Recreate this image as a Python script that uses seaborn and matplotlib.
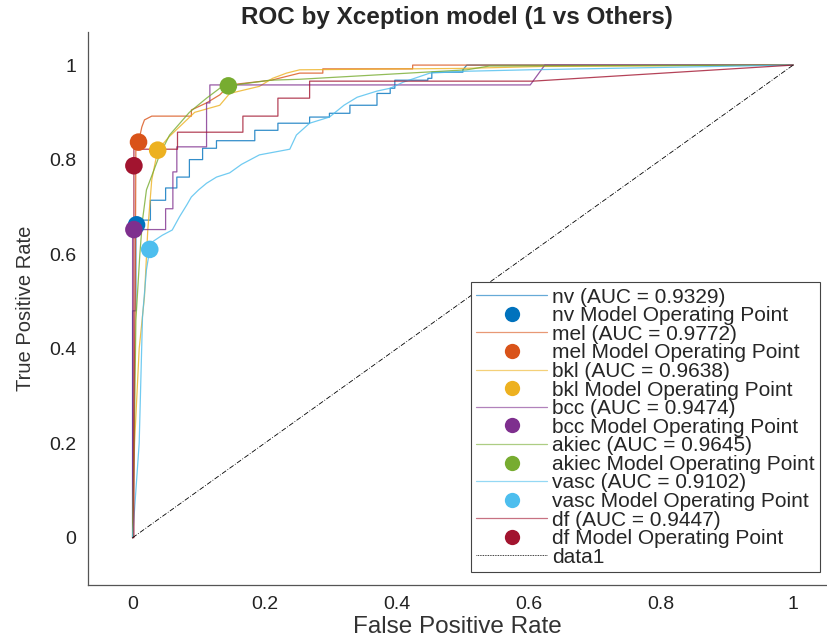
import numpy as np
import pandas as pd
import matplotlib
matplotlib.use("Agg")
import matplotlib.pyplot as plt
from matplotlib.lines import Line2D
import seaborn as sns

classes = ["nv", "mel", "bkl", "bcc", "akiec", "vasc", "df"]
auc = [0.9329, 0.9772, 0.9638, 0.9474, 0.9645, 0.9102, 0.9447]
colors = ["#0072BD", "#D95319", "#EDB120", "#7E2F8E", "#77AC30", "#4DBEEE", "#A2142F"]

nv_pts = [(0, 0), (0, 0.48), (0.005, 0.48), (0.005, 0.672), (0.027, 0.672), (0.027, 0.714),
          (0.05, 0.714), (0.05, 0.74), (0.067, 0.74), (0.067, 0.763), (0.086, 0.763), (0.086, 0.80),
          (0.106, 0.80), (0.106, 0.824), (0.127, 0.824), (0.127, 0.84), (0.185, 0.84), (0.185, 0.862),
          (0.22, 0.862), (0.22, 0.877), (0.268, 0.877), (0.268, 0.89), (0.298, 0.89), (0.298, 0.898),
          (0.329, 0.898), (0.329, 0.915), (0.37, 0.915), (0.37, 0.94), (0.39, 0.94), (0.39, 0.951),
          (0.397, 0.951), (0.397, 0.968), (0.447, 0.968), (0.447, 0.972), (0.453, 0.972), (0.453, 0.985),
          (0.50, 0.985), (0.50, 0.99), (0.506, 1.0), (1.0, 1.0)]
mel_pts = [(0, 0), (0.004, 0.5), (0.005, 0.837), (0.009, 0.837), (0.014, 0.869), (0.018, 0.884),
           (0.029, 0.892), (0.089, 0.892), (0.089, 0.905), (0.112, 0.92), (0.132, 0.937), (0.142, 0.951),
           (0.159, 0.96), (0.21, 0.968), (0.253, 0.983), (0.288, 0.983), (0.288, 0.992), (0.424, 0.992),
           (0.424, 1.0), (1.0, 1.0)]
bkl_pts = [(0, 0), (0.003, 0.2), (0.01, 0.4), (0.018, 0.51), (0.023, 0.651), (0.029, 0.757),
           (0.038, 0.82), (0.055, 0.848), (0.094, 0.90), (0.132, 0.915), (0.147, 0.94), (0.192, 0.955),
           (0.212, 0.972), (0.233, 0.983), (0.253, 0.99), (0.5, 0.993), (0.62, 0.997), (1.0, 1.0)]
bcc_pts = [(0, 0), (0, 0.652), (0.05, 0.652), (0.05, 0.696), (0.061, 0.696), (0.061, 0.774),
           (0.067, 0.774), (0.067, 0.827), (0.112, 0.827), (0.112, 0.92), (0.117, 0.92), (0.117, 0.958),
           (0.602, 0.958), (0.624, 1.0), (1.0, 1.0)]
akiec_pts = [(0, 0), (0.003, 0.25), (0.005, 0.46), (0.011, 0.60), (0.015, 0.672), (0.021, 0.736),
             (0.041, 0.81), (0.056, 0.852), (0.086, 0.90), (0.112, 0.93), (0.132, 0.951), (0.145, 0.956),
             (0.208, 0.968), (0.253, 0.97), (0.506, 0.99), (0.54, 0.998), (1.0, 1.0)]
vasc_pts = [(0, 0), (0.01, 0.2), (0.015, 0.467), (0.021, 0.567), (0.026, 0.61), (0.03, 0.626),
            (0.045, 0.64), (0.06, 0.651), (0.071, 0.679), (0.082, 0.704), (0.089, 0.721), (0.10, 0.736),
            (0.112, 0.75), (0.127, 0.763), (0.147, 0.772), (0.165, 0.79), (0.192, 0.81), (0.238, 0.822),
            (0.248, 0.852), (0.268, 0.877), (0.298, 0.89), (0.32, 0.915), (0.34, 0.932), (0.37, 0.945),
            (0.39, 0.951), (0.41, 0.964), (0.45, 0.983), (0.506, 0.987), (0.6, 0.99), (1.0, 1.0)]
df_pts = [(0, 0), (0.002, 0.0), (0.002, 0.822), (0.068, 0.822), (0.068, 0.858), (0.167, 0.858),
          (0.167, 0.892), (0.22, 0.892), (0.22, 0.93), (0.268, 0.93), (0.268, 0.966), (0.606, 0.966),
          (1.0, 1.0)]

op_fpr = [0.006, 0.009, 0.038, 0.002, 0.145, 0.026, 0.002]
op_tpr = [0.662, 0.837, 0.82, 0.652, 0.956, 0.61, 0.787]

diag_x = [0, 1]
diag_y = [0, 1]

curves = [nv_pts, mel_pts, bkl_pts, bcc_pts, akiec_pts, vasc_pts, df_pts]

sns.set_style("white")
plt.rcParams["font.family"] = ["Liberation Sans", "DejaVu Sans"]

fig = plt.figure(figsize=(8.27, 6.4), dpi=100)
ax = fig.add_axes([0.106, 0.086, 0.893, 0.864])

handles = []
labels = []
for name, a, col, pts in zip(classes, auc, colors, curves):
    d = pd.DataFrame(pts, columns=["fpr", "tpr"])
    sns.lineplot(data=d, x="fpr", y="tpr", sort=False, estimator=None, ax=ax,
                 color=col, linewidth=0.9, alpha=0.8)
    handles.append(Line2D([], [], color=col, linewidth=0.9, alpha=0.6))
    labels.append(f"{name} (AUC = {a:.4f})")
for col, ox, oy in zip(colors, op_fpr, op_tpr):
    sns.scatterplot(x=[ox], y=[oy], ax=ax, color=col, s=160, edgecolor="none", zorder=5)

sns.lineplot(x=diag_x, y=diag_y, ax=ax, color="black", linewidth=0.6, linestyle=(0, (6, 2, 1, 2)))

leg_h, leg_l = [], []
for i, (name, col) in enumerate(zip(classes, colors)):
    leg_h.append(handles[i]); leg_l.append(labels[i])
    leg_h.append(Line2D([], [], color=col, marker="o", markersize=11, linestyle="none",
                        markeredgecolor="none"))
    leg_l.append(f"{name} Model Operating Point")
leg_h.append(Line2D([], [], color="black", linewidth=0.6, linestyle=(0, (1, 1))))
leg_l.append("data1")

leg = ax.legend(leg_h, leg_l, loc="lower right", bbox_to_anchor=(0.992, 0.0235),
                borderaxespad=0, fontsize=15, handlelength=3.4, labelspacing=-0.02,
                handletextpad=0.25, borderpad=0.25, fancybox=False, framealpha=1,
                edgecolor="#444444")
leg.get_frame().set_linewidth(0.8)

ax.set_xlim(-0.068, 1.05)
ax.set_ylim(-0.1, 1.07)
ax.set_xticks([0, 0.2, 0.4, 0.6, 0.8, 1])
ax.set_xticklabels(["0", "0.2", "0.4", "0.6", "0.8", "1"])
ax.set_yticks([0, 0.2, 0.4, 0.6, 0.8, 1])
ax.set_yticklabels(["0", "0.2", "0.4", "0.6", "0.8", "1"])
ax.tick_params(direction="in", length=5, width=0.8, colors="#555555", labelcolor="#222222",
               labelsize=14, pad=8)
for s in ["top", "right"]:
    ax.spines[s].set_visible(False)
for s in ["left", "bottom"]:
    ax.spines[s].set_color("#555555")
    ax.spines[s].set_linewidth(0.9)

ax.set_xlabel("False Positive Rate", fontsize=17.5, color="#333333", labelpad=2)
ax.set_ylabel("True Positive Rate", fontsize=14.5, color="#333333", labelpad=10)
ax.set_title("ROC by Xception model (1 vs Others)", fontsize=17.5, fontweight="bold", pad=6)

fig.savefig("out.png", dpi=100)
